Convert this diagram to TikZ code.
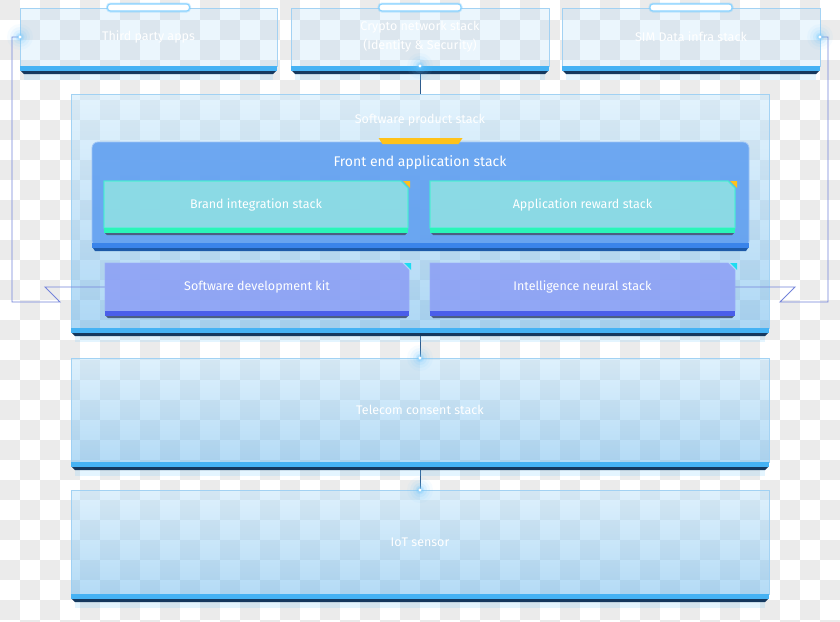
\documentclass[tikz,border=0pt]{standalone}
\usepackage{fontspec}
\setmainfont{Fira Sans}
\definecolor{chk}{HTML}{EBEBEB}
\definecolor{topfill}{HTML}{A8D8FA}
\definecolor{laytop}{HTML}{BFE4FB}
\definecolor{laybot}{HTML}{6AB8EE}
\definecolor{softtop}{HTML}{C8E8FC}
\definecolor{softbot}{HTML}{5FB2EC}
\definecolor{edgec}{HTML}{9CCFF3}
\definecolor{barblue}{HTML}{45B2F4}
\definecolor{bardark}{HTML}{15385E}
\definecolor{frontfill}{HTML}{5B9CF0}
\definecolor{frontbar}{HTML}{3A84EA}
\definecolor{frontdark}{HTML}{1D5AA8}
\definecolor{tealfill}{HTML}{9AF0E0}
\definecolor{tealedge}{HTML}{3FF2CF}
\definecolor{tealbar}{HTML}{2AF5B8}
\definecolor{purfill}{HTML}{8A9CF5}
\definecolor{puredge}{HTML}{9AAEFA}
\definecolor{purbar}{HTML}{4A5EEA}
\definecolor{slate}{HTML}{4B5F82}
\definecolor{yel}{HTML}{FFC21A}
\definecolor{cyanc}{HTML}{1DDCF2}
\definecolor{connc}{HTML}{7383DA}
\definecolor{vconn}{HTML}{2E5C8E}
\definecolor{glowc}{HTML}{6EC8FF}
\newcommand\outerbar[1]{%
  \fill[glowc, opacity=0.18] ([xshift=4pt,yshift=-8pt]#1.south west) rectangle ([xshift=-4pt,yshift=-14pt]#1.south east);
  \fill[barblue] (#1.south west) rectangle ([yshift=-5pt]#1.south east);
  \fill[bardark] ([xshift=1pt,yshift=-5pt]#1.south west) -- ([xshift=-1pt,yshift=-5pt]#1.south east)
     -- ([xshift=-4pt,yshift=-8pt]#1.south east) -- ([xshift=4pt,yshift=-8pt]#1.south west) -- cycle;}
\newcommand\innerbar[2]{%
  \fill[#2] (#1.south west) rectangle ([yshift=-5pt]#1.south east);
  \fill[slate] ([xshift=1pt,yshift=-5pt]#1.south west) -- ([xshift=-1pt,yshift=-5pt]#1.south east)
     -- ([xshift=-3pt,yshift=-7pt]#1.south east) -- ([xshift=3pt,yshift=-7pt]#1.south west) -- cycle;}
\newcommand\chamfbox[3]{%
  \path[#2] (#1.south west) -- (#1.north west) -- ([xshift=-7pt]#1.north east)
     -- ([yshift=-7pt]#1.north east) -- (#1.south east) -- cycle;
  \fill[#3] ([xshift=-5pt]#1.north east) -- ([xshift=2pt]#1.north east) -- ([xshift=2pt,yshift=-7pt]#1.north east) -- cycle;}
\newcommand\glowdot[1]{%
  \foreach \r/\o in {13/0.05,10/0.08,7/0.12,4.5/0.2,3/0.3} {\fill[glowc, opacity=\o] (#1) circle (\r pt);}
  \fill[white] (#1) circle (1.7pt);}
\newcommand\toptab[1]{%
  \draw[glowc, opacity=0.35, line width=3pt, rounded corners=3pt] ([xshift=-41pt,yshift=4pt]#1.north) rectangle ([xshift=41pt,yshift=-3pt]#1.north);
  \draw[glowc!80, line width=1.1pt, fill=white, rounded corners=3pt] ([xshift=-41pt,yshift=4pt]#1.north) rectangle ([xshift=41pt,yshift=-3pt]#1.north);}
\begin{document}
\begin{tikzpicture}[x=1pt,y=-1pt,
  sized/.style 2 args={minimum width=#1, minimum height=#2, inner sep=0pt, outer sep=0pt},
  topbox/.style={fill=topfill, fill opacity=0.22, draw=edgec, draw opacity=0.9, line width=0.8pt},
  layerbox/.style={top color=laytop, bottom color=laybot, fill opacity=0.5, draw=edgec, draw opacity=0.9, line width=0.8pt},
  softbox/.style={top color=softtop, bottom color=softbot, fill opacity=0.5, draw=edgec, draw opacity=0.9, line width=0.8pt},
  frontbox/.style={fill=frontfill, fill opacity=0.85, draw=frontfill!60!white, line width=0.8pt, rounded corners=6pt},
  tealbox/.style={fill=tealfill, fill opacity=0.7, draw=tealedge, draw opacity=0.8, line width=1.3pt},
  purbox/.style={fill=purfill, fill opacity=0.82, draw=puredge, draw opacity=0.8, line width=0.8pt},
  lbl/.style={text=white, font=\fontsize{12.5}{15}\selectfont, align=center, inner sep=0pt},
  conn/.style={draw=connc, line width=0.9pt},
  vline/.style={draw=vconn, line width=1pt}]
\useasboundingbox (0,0) rectangle (840,621);
\fill[white] (0,0) rectangle (840,621);
\foreach \i in {0,2,...,40} {\foreach \j in {0,2,...,30} {
  \fill[chk] (\i*20,\j*20) rectangle ++(20,20);
  \fill[chk] (\i*20+20,\j*20+20) rectangle ++(20,20);}}
% nodes
\node[sized={257pt}{58pt}] (third) at (148.5,37) {};
\node[sized={258pt}{58pt}] (crypto) at (420,37) {};
\node[sized={258pt}{58pt}] (sim) at (691,37) {};
\node[sized={698pt}{234pt}] (soft) at (420,211) {};
\node[sized={657pt}{105pt}] (front) at (420.5,194.5) {};
\node[sized={304pt}{47pt}] (brand) at (256,204.5) {};
\node[sized={305pt}{47pt}] (reward) at (582.5,204.5) {};
\node[sized={304pt}{48pt}] (sdk) at (257,287) {};
\node[sized={305pt}{48pt}] (intel) at (582.5,287) {};
\node[sized={698pt}{104pt}] (telecom) at (420,410) {};
\node[sized={698pt}{104pt}] (iot) at (420,542) {};
\coordinate (lA) at (12,302);
\coordinate (lB) at (60,302);
\coordinate (lC) at (45,287);
\coordinate (rA) at (828,302);
\coordinate (rB) at (780,302);
\coordinate (rC) at (795,287);
% boxes
\path[topbox] (third.north west) rectangle (third.south east);
\path[topbox] (crypto.north west) rectangle (crypto.south east);
\path[topbox] (sim.north west) rectangle (sim.south east);
\path[softbox] (soft.north west) rectangle (soft.south east);
\path[layerbox] (telecom.north west) rectangle (telecom.south east);
\path[layerbox] (iot.north west) rectangle (iot.south east);
% connectors
\draw[conn] (third.west) -- (third.west -| lA) -- (lA) -- (lB) -- (lC) -- (sdk.west);
\draw[conn] (sim.east) -- (sim.east -| rA) -- (rA) -- (rB) -- (rC) -- (intel.east);
\draw[vline] (crypto.south) -- (soft.north);
\draw[vline] (soft.south) -- (telecom.north);
\draw[vline] (telecom.south) -- (iot.north);
% bars
\outerbar{third}\outerbar{crypto}\outerbar{sim}
\outerbar{soft}\outerbar{telecom}\outerbar{iot}
% front end
\path[frontbox] (front.south west) rectangle (front.north east);
\fill[frontbar] ([yshift=4pt]front.south west) rectangle ([yshift=-1pt]front.south east);
\fill[frontdark] ([xshift=1pt,yshift=-1pt]front.south west) -- ([xshift=-1pt,yshift=-1pt]front.south east)
   -- ([xshift=-3pt,yshift=-4pt]front.south east) -- ([xshift=3pt,yshift=-4pt]front.south west) -- cycle;
\fill[yel] ([xshift=-42pt,yshift=4pt]front.north) -- ([xshift=42pt,yshift=4pt]front.north)
   -- ([xshift=38pt,yshift=-2pt]front.north) -- ([xshift=-38pt,yshift=-2pt]front.north) -- cycle;
% inner boxes
\chamfbox{brand}{tealbox}{yel}\innerbar{brand}{tealbar}
\chamfbox{reward}{tealbox}{yel}\innerbar{reward}{tealbar}
\chamfbox{sdk}{purbox}{cyanc}\innerbar{sdk}{purbar}
\chamfbox{intel}{purbox}{cyanc}\innerbar{intel}{purbar}
% tabs and glows
\toptab{third}\toptab{crypto}\toptab{sim}
\glowdot{third.west}\glowdot{sim.east}\glowdot{crypto.south}
\glowdot{telecom.north}\glowdot{iot.north}
% labels
\node[lbl] (thirdT) at (third) {Third party apps};
\node[lbl, font=\fontsize{12.5}{19}\selectfont] (cryptoT) at (crypto) {Crypto network stack\\(Identity \& Security)};
\node[lbl] (simT) at (sim) {SIM Data infra stack};
\node[lbl] (softT) at (420,120) {Software product stack};
\node[lbl, font=\fontsize{14}{16}\selectfont] (frontT) at (420,163) {Front end application stack};
\node[lbl] (brandT) at (brand) {Brand integration stack};
\node[lbl] (rewardT) at (reward) {Application reward stack};
\node[lbl] (sdkT) at (sdk) {Software development kit};
\node[lbl] (intelT) at (intel) {Intelligence neural stack};
\node[lbl] (telecomT) at (telecom) {Telecom consent stack};
\node[lbl] (iotT) at (iot) {IoT sensor};
\end{tikzpicture}
\end{document}
